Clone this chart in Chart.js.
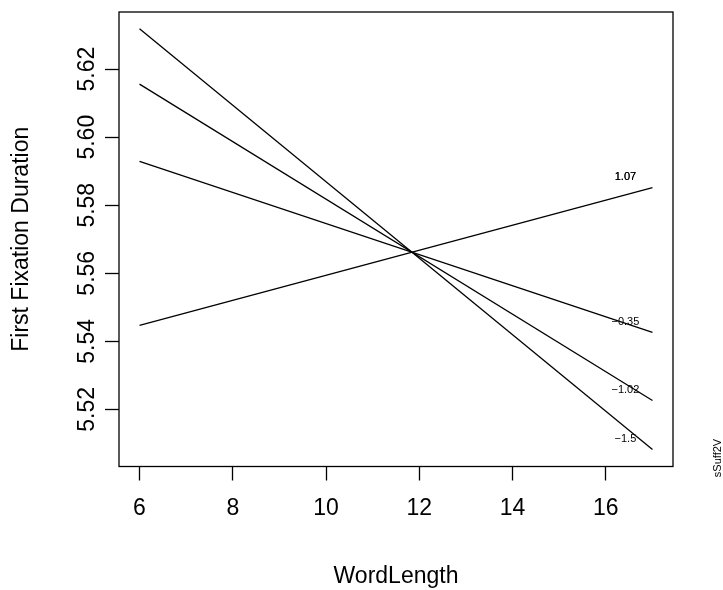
<!DOCTYPE html>
<html>
<head>
<meta charset="utf-8">
<script src="https://cdn.jsdelivr.net/npm/chart.js@4"></script>
<style>
  html, body { margin: 0; padding: 0; background: #fff; }
  #wrap { width: 723px; height: 590px; }
</style>
</head>
<body>
<div id="wrap"><canvas id="effect-chart" width="723" height="590"></canvas></div>
<script>
// Word length range shown for each line
const wordLength = [6, 17];

// sSuff2V levels and the fitted duration at each end of the range
const levels = ['1.07', '\u22120.35', '\u22121.02', '\u22121.5'];
const fitted = [
    [5.5447, 5.5852],
    [5.5929, 5.5426],
    [5.6156, 5.5226],
    [5.6319, 5.5082]
];

// Axis ticks
const xTicks = [6, 8, 10, 12, 14, 16];
const yTicks = [5.52, 5.54, 5.56, 5.58, 5.60, 5.62];

const FONT = "'Liberation Sans', Arial, Helvetica, sans-serif";

// Build one black line per level
const datasets = levels.map((lvl, i) => ({
    label: lvl,
    data: wordLength.map((w, j) => ({ x: w, y: fitted[i][j] })),
    borderColor: '#000',
    borderWidth: 1.3,
    pointRadius: 0,
    tension: 0,
    fill: false
}));

// Box around the plot, rotated y tick labels, line labels and the side label
const decorations = {
    id: 'decorations',
    afterDraw(chart) {
        const { ctx, chartArea: a, scales: { x, y } } = chart;
        ctx.save();
        ctx.strokeStyle = '#000';
        ctx.lineWidth = 1.3;
        ctx.strokeRect(a.left, a.top, a.right - a.left, a.bottom - a.top);

        // y tick labels run parallel to the axis
        ctx.fillStyle = '#000';
        ctx.font = '23px ' + FONT;
        ctx.textAlign = 'center';
        ctx.textBaseline = 'alphabetic';
        y.ticks.forEach(t => {
            ctx.save();
            ctx.translate(94, y.getPixelForValue(t.value));
            ctx.rotate(-Math.PI / 2);
            ctx.fillText(t.value.toFixed(2), 0, 0);
            ctx.restore();
        });

        // level labels just above the right end of each line
        ctx.font = '11px ' + FONT;
        ctx.textBaseline = 'middle';
        levels.forEach((lvl, i) => {
            const px = x.getPixelForValue(16.42);
            const py = y.getPixelForValue(fitted[i][1]) - 10.5;
            ctx.fillText(lvl, px, py);
            if (i === 0) ctx.fillText(lvl, px, py);
        });

        ctx.translate(718, 458);
        ctx.rotate(-Math.PI / 2);
        ctx.fillText('sSuff2V', 0, 0);
        ctx.restore();
    }
};

const chart = new Chart(document.getElementById('effect-chart'), {
    type: 'line',
    data: { datasets },
    options: {
        responsive: false,
        animation: false,
        layout: { padding: { left: 8, right: 50, top: 12, bottom: 0 } },
        plugins: { legend: { display: false }, tooltip: { enabled: false } },
        scales: {
            x: {
                type: 'linear',
                min: 5.56,
                max: 17.44,
                afterBuildTicks: scale => { scale.ticks = xTicks.map(v => ({ value: v })); },
                border: { display: false },
                grid: { drawOnChartArea: false, drawTicks: true, tickLength: 14, color: '#000', tickWidth: 1.3 },
                ticks: { color: '#000', padding: 14.5, maxRotation: 0, font: { family: FONT, size: 23 } },
                title: {
                    display: true,
                    text: 'WordLength',
                    color: '#000',
                    font: { family: FONT, size: 23 },
                    padding: { top: 25.3, bottom: 0 }
                }
            },
            y: {
                type: 'linear',
                min: 5.5032,
                max: 5.6368,
                afterBuildTicks: scale => { scale.ticks = yTicks.map(v => ({ value: v })); },
                border: { display: false },
                grid: { drawOnChartArea: false, drawTicks: true, tickLength: 14, color: '#000', tickWidth: 1.3 },
                ticks: { display: false },
                title: {
                    display: true,
                    text: 'First Fixation Duration',
                    color: '#000',
                    font: { family: FONT, size: 23 },
                    padding: { top: 0, bottom: 69.4 }
                }
            }
        }
    },
    plugins: [decorations]
});
</script>
</body>
</html>
